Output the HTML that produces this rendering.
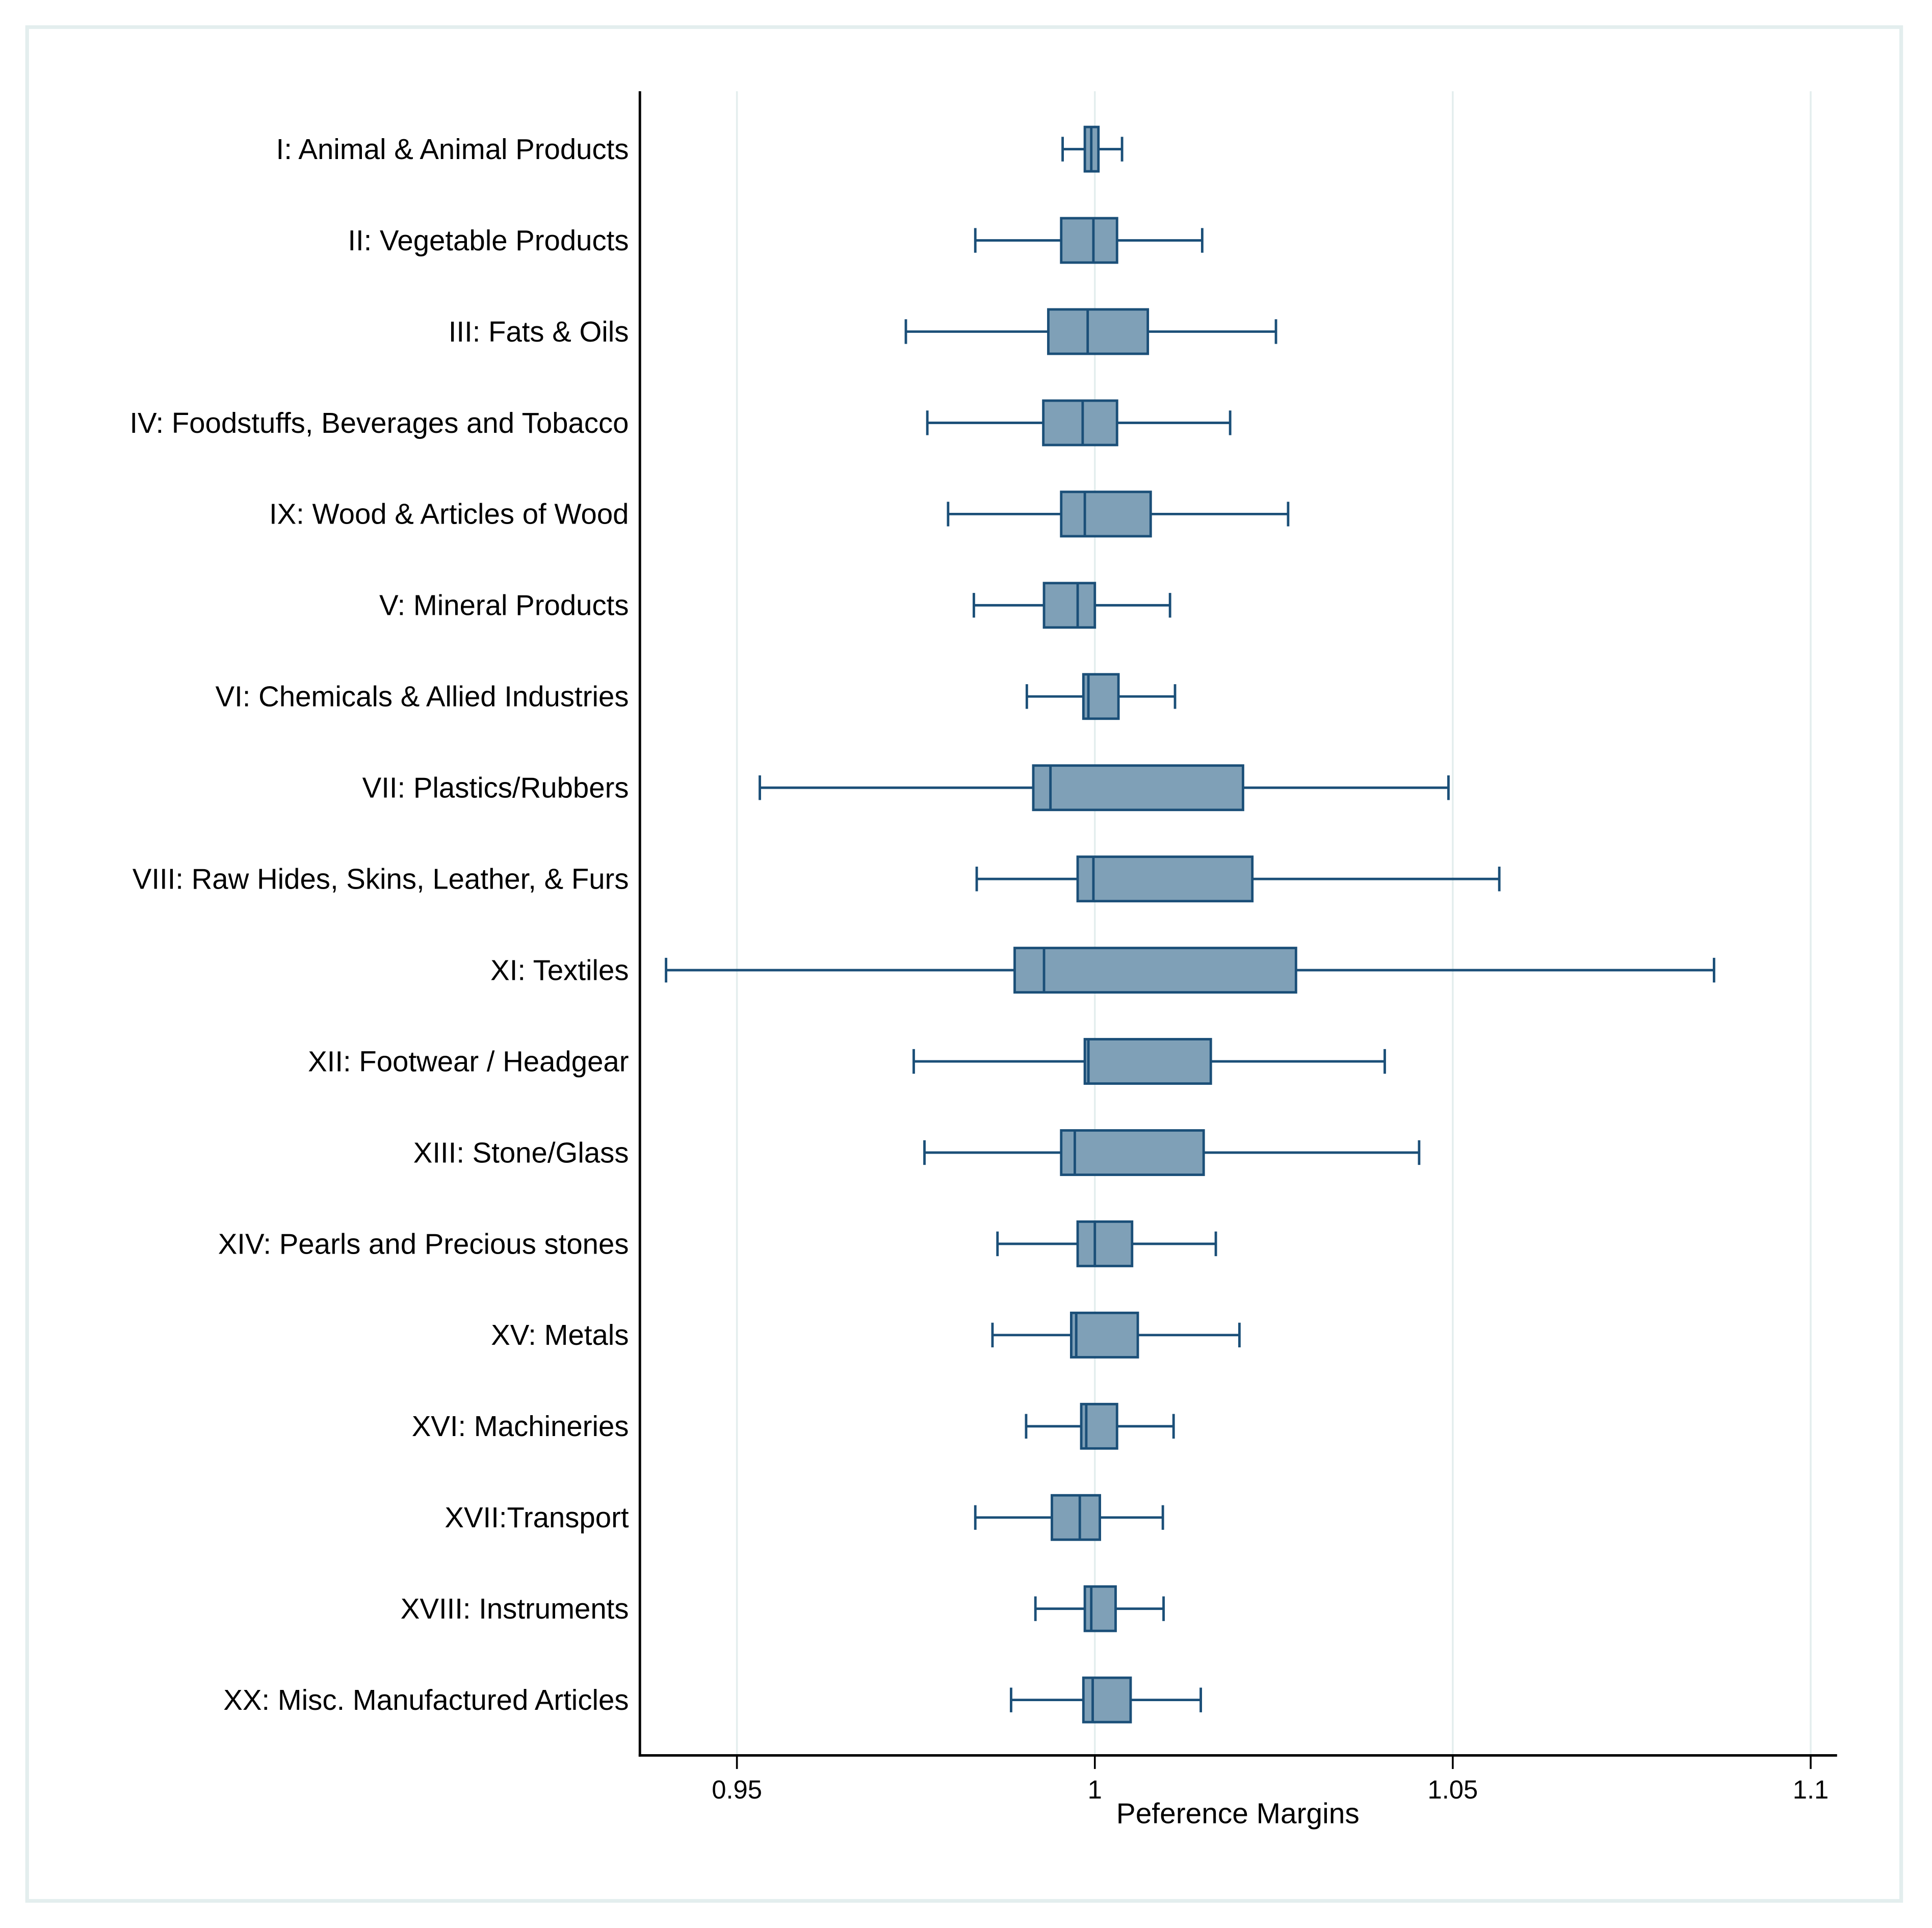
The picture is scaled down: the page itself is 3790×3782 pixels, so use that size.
<!DOCTYPE html>
<html><head><meta charset="utf-8"><style>
html,body{margin:0;padding:0;background:#fff;}
svg{display:block;}
text{font-family:"Liberation Sans",Arial,sans-serif;fill:#000;}
</style></head><body>
<svg id="chart" width="3790" height="3782" viewBox="0 0 1567 1564" preserveAspectRatio="none" xmlns="http://www.w3.org/2000/svg">
<rect x="22" y="22" width="1520" height="1520" fill="#fff" stroke="#e3eeee" stroke-width="3"/>
<g id="grid"></g>
<g id="boxes"></g>
<g id="labels"></g>
<line x1="519" y1="74" x2="519" y2="1425" stroke="#000" stroke-width="2"/>
<line x1="518" y1="1424" x2="1490" y2="1424" stroke="#000" stroke-width="2"/>
<g id="ticks"></g>
<text x="1004" y="1479" font-size="23.5" text-anchor="middle">Peference Margins</text>
</svg>
<script>
const categories = ["I: Animal & Animal Products","II: Vegetable Products","III: Fats & Oils","IV: Foodstuffs, Beverages and Tobacco","IX: Wood & Articles of Wood","V: Mineral Products","VI: Chemicals & Allied Industries","VII: Plastics/Rubbers","VIII: Raw Hides, Skins, Leather, & Furs","XI: Textiles","XII:  Footwear / Headgear","XIII: Stone/Glass","XIV: Pearls and Precious stones","XV: Metals","XVI: Machineries","XVII:Transport","XVIII: Instruments","XX: Misc. Manufactured Articles "];
const whiskerLow = [0.9955,0.9833,0.9736,0.9766,0.9795,0.9831,0.9905,0.9532,0.9835,0.9401,0.9747,0.9762,0.9864,0.9857,0.9904,0.9833,0.9917,0.9883];
const whiskerHigh = [1.0038,1.0150,1.0253,1.0189,1.0270,1.0105,1.0112,1.0494,1.0565,1.0865,1.0405,1.0453,1.0169,1.0202,1.0110,1.0095,1.0096,1.0148];
const q1 = [0.9986,0.9953,0.9935,0.9928,0.9953,0.9929,0.9984,0.9914,0.9976,0.9888,0.9986,0.9953,0.9976,0.9967,0.9981,0.9940,0.9986,0.9984];
const q3 = [1.0005,1.0031,1.0074,1.0031,1.0078,1.0000,1.0033,1.0207,1.0220,1.0281,1.0162,1.0152,1.0052,1.0060,1.0031,1.0007,1.0029,1.0050];
const medians = [0.9995,0.9998,0.9990,0.9983,0.9986,0.9976,0.9991,0.9938,0.9998,0.9929,0.9991,0.9972,1.0000,0.9974,0.9988,0.9979,0.9995,0.9997];
const tickValues = [0.95,1,1.05,1.1];
const tickLabels = ["0.95","1","1.05","1.1"];

const NS="http://www.w3.org/2000/svg";
const xScale = v => 888 + (v-1)*5806;
const yScale = i => 121 + i*74;
function mk(tag, attrs, parent){const e=document.createElementNS(NS,tag);for(const k in attrs)e.setAttribute(k,attrs[k]);document.getElementById(parent).appendChild(e);return e;}
const stroke="#1b4f78";
tickValues.forEach((t,i)=>{
  const x=xScale(t);
  const g=mk('line',{x1:x,y1:74,x2:x,y2:1423,stroke:"#e4eeee","stroke-width":1.5},'grid');
  
  
  const tm=mk('line',{x1:x,y1:1424,x2:x,y2:1435,stroke:"#000","stroke-width":1.5},'ticks');
  
  
  const tl=mk('text',{x:x,y:1459,"font-size":21,"text-anchor":"middle"},'ticks');
  tl.textContent=tickLabels[i];
  
  
});
categories.forEach((c,i)=>{
  const y=yScale(i);
  const lab=mk('text',{x:510,y:y+8,"font-size":23.3,"text-anchor":"end"},'labels');
  lab.textContent=c;
  
  
  const wl=mk('line',{x1:xScale(whiskerLow[i]),y1:y,x2:xScale(q1[i]),y2:y,stroke:stroke,"stroke-width":2},'boxes');
  
  
  const wh=mk('line',{x1:xScale(q3[i]),y1:y,x2:xScale(whiskerHigh[i]),y2:y,stroke:stroke,"stroke-width":2},'boxes');
  
  
  const cl=mk('line',{x1:xScale(whiskerLow[i]),y1:y-10,x2:xScale(whiskerLow[i]),y2:y+10,stroke:stroke,"stroke-width":2},'boxes');
  
  
  const ch=mk('line',{x1:xScale(whiskerHigh[i]),y1:y-10,x2:xScale(whiskerHigh[i]),y2:y+10,stroke:stroke,"stroke-width":2},'boxes');
  
  
  const b=mk('rect',{x:xScale(q1[i]),y:y-18,width:xScale(q3[i])-xScale(q1[i]),height:36,fill:"#7fa0b7",stroke:stroke,"stroke-width":2},'boxes');
  
  
  const m=mk('line',{x1:xScale(medians[i]),y1:y-18,x2:xScale(medians[i]),y2:y+18,stroke:stroke,"stroke-width":2},'boxes');
  
  
});
</script>
</body></html>
